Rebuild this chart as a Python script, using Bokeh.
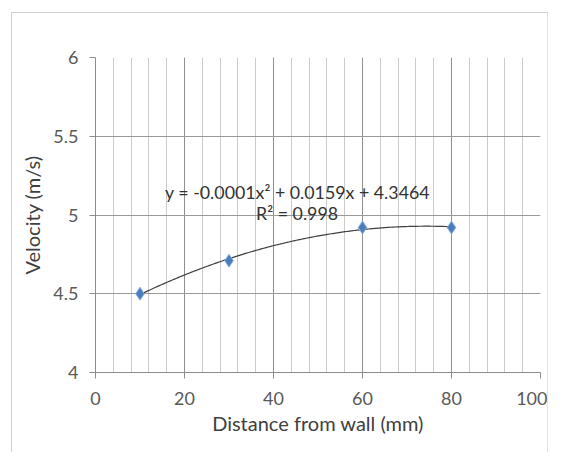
import numpy as np
from bokeh.plotting import figure
from bokeh.models import FixedTicker, Range1d
from bokeh.core.properties import value
from bokeh.embed import file_html
from bokeh.resources import INLINE

# data
distance_mm = [10, 30, 60, 80]
velocity_ms = [4.50, 4.71, 4.92, 4.92]
x_ticks = [0, 20, 40, 60, 80, 100]
x_minor = list(range(0, 101, 4))
y_ticks = [4, 4.5, 5, 5.5, 6]
y_tick_labels = {4: "4", 4.5: "4.5", 5: "5", 5.5: "5.5", 6: "6"}
equation_text = "y = -0.0001x\u00b2 + 0.0159x + 4.3464"
r2_text = "R\u00b2 = 0.998"

FONT = "Lato"

p = figure(width=537, height=440, output_backend="svg", toolbar_location=None,
           x_range=Range1d(0, 100), y_range=Range1d(4, 6),
           min_border_left=83, min_border_right=9, min_border_top=44, min_border_bottom=81)
p.margin = (12, 0, 0, 11)
p.styles = {"border-left": "1px solid #d0d0d0", "border-top": "1px solid #d0d0d0",
            "border-right": "1px solid #e2e2e2"}
p.outline_line_color = None
p.background_fill_color = "white"
p.border_fill_color = "white"

# axes
p.xaxis.ticker = FixedTicker(ticks=x_ticks, minor_ticks=x_minor)
p.yaxis.ticker = FixedTicker(ticks=y_ticks, minor_ticks=[])
p.yaxis.major_label_overrides = y_tick_labels
for ax in (p.xaxis, p.yaxis):
    ax.axis_line_color = "#8c8c8c"
    ax.major_tick_line_color = "#8c8c8c"
    ax.major_tick_out = 6
    ax.major_tick_in = 0
    ax.minor_tick_out = 0
    ax.minor_tick_in = 0
    ax.major_label_text_font = FONT
    ax.major_label_text_font_size = "18px"
    ax.major_label_text_color = "#595959"
    ax.axis_label_text_font = FONT
    ax.axis_label_text_font_size = "20px"
    ax.axis_label_text_font_style = "normal"
    ax.axis_label_text_color = "#404040"
p.xaxis.axis_label = "Distance from wall (mm)"
p.yaxis.axis_label = "Velocity (m/s)"
p.xaxis.major_label_standoff = 13
p.yaxis.major_label_standoff = 11
p.xaxis.axis_label_standoff = 3
p.yaxis.axis_label_standoff = 6

# grids
p.xgrid.ticker = FixedTicker(ticks=x_ticks, minor_ticks=x_minor)
p.xgrid.grid_line_color = "#8f8f8f"
p.xgrid.minor_grid_line_color = "#cbcbcb"
p.ygrid.ticker = FixedTicker(ticks=y_ticks)
p.ygrid.grid_line_color = "#9a9a9a"

# trendline (2nd order polynomial fit)
coef = np.polyfit(distance_mm, velocity_ms, 2)
xs = np.linspace(min(distance_mm), max(distance_mm), 200)
p.line(xs, np.polyval(coef, xs), line_color="#404040", line_width=1.2)

# points
p.scatter(distance_mm, velocity_ms, marker="diamond", size=13,
          fill_color="#4a7ebb", line_color="#8db3e2", line_width=1)

# equation labels
p.text(x=[45.4], y=[5.145], text=[equation_text], text_align="center", text_baseline="middle",
       text_font=value(FONT), text_font_size="17.8px", text_color="#333333")
p.text(x=[45.3], y=[5.01], text=[r2_text], text_align="center", text_baseline="middle",
       text_font=value(FONT), text_font_size="17.8px", text_color="#333333")

open("out.html", "w").write(file_html(p, INLINE))
